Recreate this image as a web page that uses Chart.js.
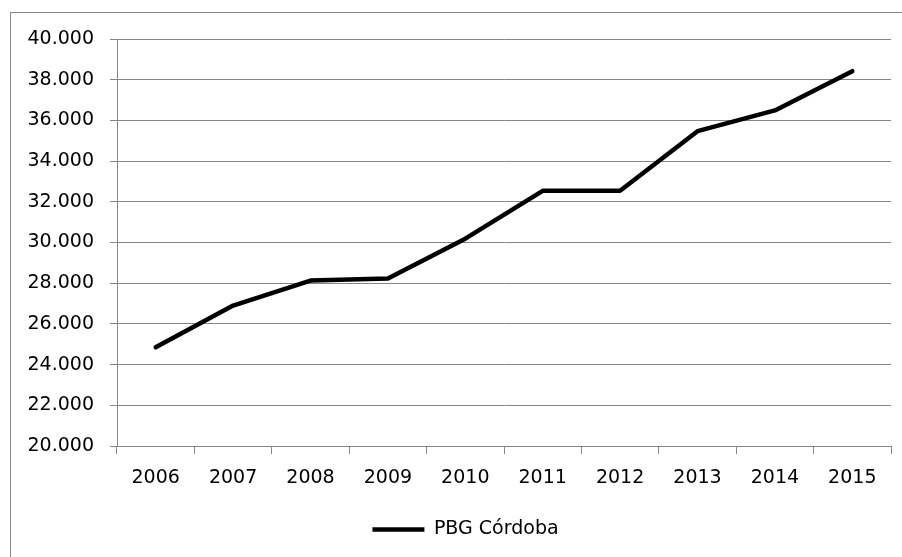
<!DOCTYPE html>
<html>
<head>
<meta charset="utf-8">
<script src="https://cdn.jsdelivr.net/npm/chart.js@4/dist/chart.umd.min.js"></script>
<style>
  body { margin: 0; background: #fff; }
  #frame { position: absolute; left: 10px; top: 12px; width: 900px; height: 560px; border: 1px solid #888; }
  #wrap { position: absolute; left: 0; top: 0; width: 902px; height: 557px; }
</style>
</head>
<body>
<div id="frame"></div>
<div id="wrap"><canvas id="chart"></canvas></div>
<script>
// PBG Córdoba por año
const years = ["2006", "2007", "2008", "2009", "2010", "2011", "2012", "2013", "2014", "2015"];
const pbgValues = [24850, 26900, 28130, 28230, 30190, 32540, 32540, 35470, 36490, 38420];
const seriesLabel = "PBG Córdoba";

const axisColor = "#868686";
const fontFamily = "'DejaVu Sans', sans-serif";

// legend sits a bit right of the page center in the original
const legendShift = {
    id: "legendShift",
    afterLayout(chart) {
        chart.legend.left = 40;
        chart.legend.right = chart.chartArea.right;
    }
};

const ctx = document.getElementById("chart").getContext("2d");
const myChart = new Chart(ctx, {
    type: "line",
    data: {
        labels: years,
        datasets: [{
            label: seriesLabel,
            data: pbgValues,
            borderColor: "#000",
            backgroundColor: "#000",
            borderWidth: 4.5,
            borderCapStyle: "round",
            borderJoinStyle: "round",
            pointRadius: 0,
            tension: 0,
            fill: false
        }]
    },
    options: {
        responsive: true,
        maintainAspectRatio: false,
        animation: false,
        layout: { padding: { top: 39, right: 11, bottom: 8, left: 0 } },
        plugins: {
            tooltip: { enabled: false },
            legend: {
                position: "bottom",
                labels: {
                    usePointStyle: true,
                    pointStyle: "line",
                    pointStyleWidth: 52,
                    color: "#000",
                    font: { family: fontFamily, size: 19 },
                    padding: 12
                }
            }
        },
        scales: {
            x: {
                offset: true,
                grid: { display: true, drawOnChartArea: false, offset: true, color: axisColor, tickLength: 8 },
                border: { color: axisColor },
                ticks: { color: "#000", font: { family: fontFamily, size: 19 }, padding: 13, maxRotation: 0 },
                afterFit: scale => { scale.height = 62; }
            },
            y: {
                min: 20000,
                max: 40000,
                grid: { color: axisColor, tickLength: 7 },
                border: { color: axisColor },
                ticks: {
                    stepSize: 2000,
                    color: "#000",
                    font: { family: fontFamily, size: 19 },
                    padding: 16,
                    callback: v => v.toLocaleString("de-DE")
                },
                afterFit: scale => { scale.width = 117; }
            }
        }
    },
    plugins: [legendShift]
});
</script>
</body>
</html>
